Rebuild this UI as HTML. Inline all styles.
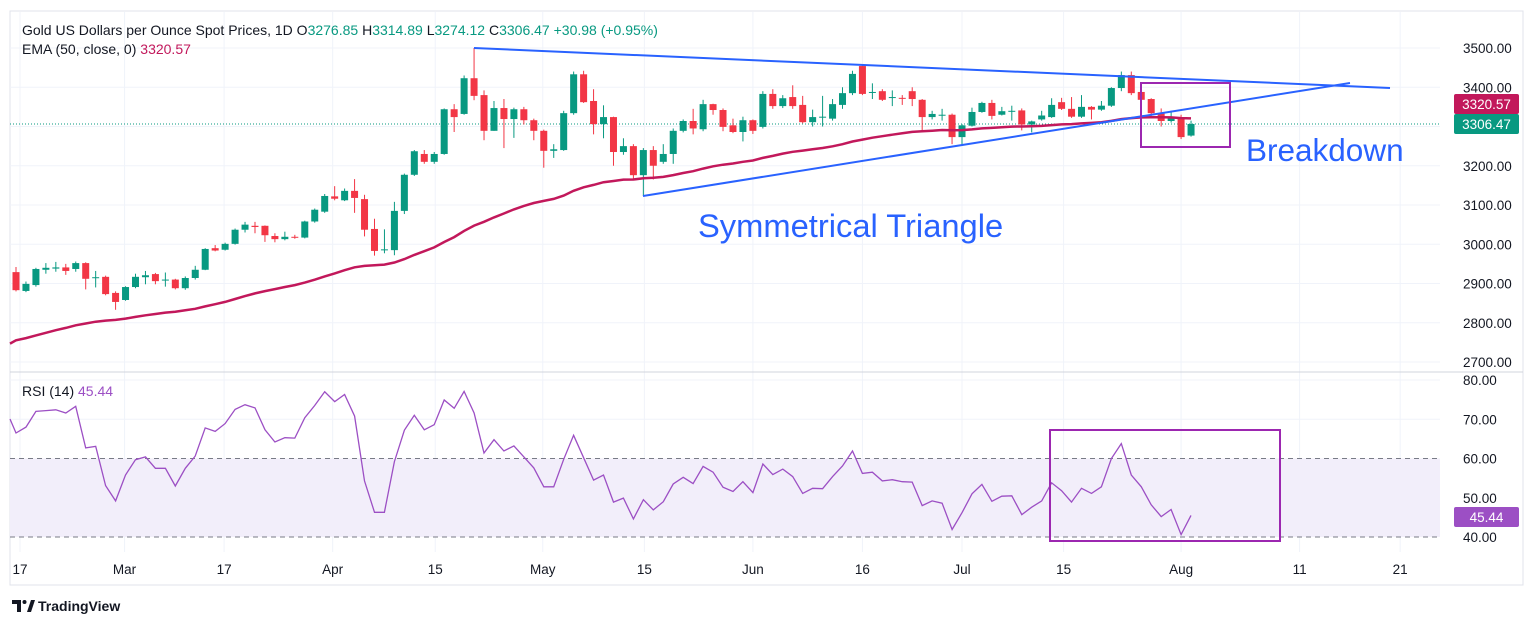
<!DOCTYPE html>
<html><head><meta charset="utf-8">
<style>
html,body{margin:0;padding:0;background:#fff;}
body{width:1536px;height:626px;overflow:hidden;font-family:"Liberation Sans",sans-serif;}
svg text{font-family:"Liberation Sans",sans-serif;}
</style></head>
<body>
<svg id="chart" width="1536" height="626" viewBox="0 0 1536 626" xmlns="http://www.w3.org/2000/svg">
  <rect x="0" y="0" width="1536" height="626" fill="#ffffff"/>
  <rect x="10" y="11" width="1513" height="574" fill="none" stroke="#e0e3eb" stroke-width="1"/>
  <g id="grid"></g>
  <g id="rsiPane"></g>
  <g id="pricePane"></g>
  <line x1="10" y1="372" x2="1523" y2="372" stroke="#d1d4dc" stroke-width="1"/>
  <g id="annotations">
    <line x1="474" y1="48" x2="1390" y2="88" stroke="#2962ff" stroke-width="2"/>
    <line x1="643" y1="196" x2="1350" y2="83" stroke="#2962ff" stroke-width="2"/>
    <rect x="1141" y="83" width="89" height="64" fill="none" stroke="#9c27b0" stroke-width="2"/>
    <rect x="1050" y="430" width="230" height="111" fill="none" stroke="#9c27b0" stroke-width="2"/>
    <text x="698" y="237" font-size="32.7" fill="#2962ff">Symmetrical Triangle</text>
    <text x="1246" y="161" font-size="31.5" fill="#2962ff">Breakdown</text>
  </g>
  <g id="axes"></g>
  <g>
    <text x="22" y="35" font-size="14" fill="#131722">Gold US Dollars per Ounce Spot Prices, 1D <tspan fill="#131722">O</tspan><tspan fill="#089981">3276.85</tspan> <tspan fill="#131722">H</tspan><tspan fill="#089981">3314.89</tspan> <tspan fill="#131722">L</tspan><tspan fill="#089981">3274.12</tspan> <tspan fill="#131722">C</tspan><tspan fill="#089981">3306.47</tspan> <tspan fill="#089981">+30.98 (+0.95%)</tspan></text>
    <text x="22" y="54" font-size="14" fill="#131722">EMA (50, close, 0) <tspan fill="#c2185b">3320.57</tspan></text>
    <text x="22" y="396" font-size="14" fill="#131722">RSI (14) <tspan fill="#9c4fc4">45.44</tspan></text>
  </g>
  <g>
    <path d="M12 600 h9 v12 h-4 v-8 h-5z" fill="#131722"/>
    <circle cx="24.5" cy="602" r="2" fill="#131722"/>
    <path d="M27 612 l4 -12 h4 l-4 12z" fill="#131722"/>
    <text x="38" y="611" font-size="14" font-weight="bold" fill="#131722">TradingView</text>
  </g>
</svg>
<script>
// ---- data ----
const opens  = [2929,2881,2896,2935,2938,2941,2937,2952,2914,2917,2876,2858,2891,2916,2924,2908,2910,2888,2914,2935,2990,2986,3001,3037,3047,3047,3021,3013,3019,3017,3058,3083,3122,3112,3136,3115,3039,2985,2985,3085,3177,3230,3210,3230,3344,3332,3423,3380,3289,3347,3319,3344,3316,3289,3238,3240,3334,3433,3365,3306,3324,3235,3250,3176,3240,3210,3230,3289,3314,3293,3357,3342,3303,3286,3316,3299,3383,3352,3375,3355,3311,3325,3320,3355,3385,3454,3386,3390,3374,3373,3390,3368,3324,3330,3330,3273,3302,3337,3360,3330,3339,3341,3305,3318,3324,3362,3345,3325,3350,3343,3353,3398,3431,3388,3370,3333,3314,3324,3276.85];
const highs  = [2942,2905,2940,2952,2955,2950,2956,2954,2932,2920,2880,2893,2925,2932,2927,2928,2912,2918,2945,2990,2998,3004,3040,3057,3057,3048,3028,3032,3024,3060,3091,3128,3148,3142,3166,3126,3065,3038,3108,3180,3240,3240,3235,3346,3357,3430,3500,3392,3365,3370,3348,3350,3320,3292,3255,3340,3440,3442,3395,3354,3325,3270,3255,3245,3250,3255,3295,3318,3345,3368,3358,3346,3320,3325,3318,3390,3395,3380,3405,3378,3343,3378,3370,3400,3442,3456,3410,3395,3392,3380,3400,3370,3340,3345,3333,3306,3348,3363,3368,3350,3353,3346,3315,3340,3372,3373,3375,3380,3352,3365,3400,3440,3440,3390,3372,3346,3340,3330,3314.89];
const lows   = [2880,2878,2892,2925,2930,2922,2930,2885,2890,2870,2833,2856,2888,2898,2898,2892,2885,2884,2910,2934,2982,2984,2999,3030,3028,3006,3005,3010,3014,3015,3055,3080,3112,3110,3080,3020,2971,2977,2972,3077,3174,3205,3205,3228,3286,3330,3367,3265,3289,3245,3271,3305,3265,3195,3220,3238,3330,3360,3280,3270,3200,3228,3165,3123,3165,3205,3205,3285,3280,3288,3330,3288,3283,3262,3281,3295,3345,3347,3345,3308,3300,3300,3315,3345,3380,3380,3370,3365,3352,3355,3352,3290,3318,3315,3255,3253,3300,3335,3318,3328,3315,3290,3285,3315,3322,3342,3322,3322,3318,3340,3350,3390,3380,3366,3325,3300,3310,3268,3274.12];
const closes = [2883,2899,2937,2940,2941,2932,2952,2912,2916,2873,2853,2891,2917,2921,2906,2910,2888,2914,2935,2988,2984,3001,3037,3050,3044,3023,3013,3019,3017,3058,3088,3123,3116,3136,3118,3037,2983,2987,3085,3177,3237,3210,3230,3344,3324,3423,3378,3289,3347,3319,3344,3316,3289,3238,3242,3334,3433,3362,3306,3324,3235,3250,3176,3240,3200,3230,3289,3314,3295,3357,3342,3299,3286,3316,3289,3383,3352,3372,3352,3311,3324,3325,3357,3385,3434,3383,3388,3368,3375,3372,3370,3324,3332,3330,3273,3303,3337,3360,3327,3339,3340,3305,3313,3328,3355,3345,3325,3350,3343,3353,3398,3431,3385,3368,3334,3314,3322,3273,3306.47];
const rsiPrev = 72.4;
const rsiValues = [66.5,68.0,72.0,72.2,72.4,71.6,73.3,62.7,63.1,53.1,49.2,55.8,59.7,60.4,57.5,57.5,53.0,57.5,60.6,67.8,66.9,68.9,72.5,73.7,72.9,67.3,64.2,65.3,65.2,70.4,73.5,77.0,74.5,76.3,70.8,54.3,46.3,46.3,59.2,67.2,71.0,67.3,68.6,74.9,72.8,77.1,71.6,61.4,64.8,61.9,63.2,60.4,57.6,52.8,52.8,59.8,65.9,60.2,54.5,55.8,48.9,49.9,44.6,49.5,46.9,49.0,53.5,55.2,53.6,58.0,56.5,52.7,51.6,54.1,51.3,58.6,55.9,57.3,55.4,51.1,52.4,52.3,55.4,58.1,61.9,56.2,56.5,54.3,54.6,54.1,54.0,48.0,49.2,48.6,41.9,46.2,51.0,53.4,49.1,50.4,50.5,45.7,47.6,49.2,53.8,51.8,48.9,52.4,51.1,52.8,60.0,63.8,55.8,52.8,48.2,45.2,47.0,40.6,45.5];
const priceTicks = [3500,3400,3300,3200,3100,3000,2900,2800,2700];
const rsiTicks = [80,70,60,50,40];
const dateLabels = ["17","Mar","17","Apr","15","May","15","Jun","16","Jul","15","Aug","11","21"];
const dateIndex  = [0.4,10.9,20.9,31.8,42.1,52.9,63.1,74,85,95,105.2,117,128.9,139];
const emaSeed = 2750;
const emaPeriod = 50;

// ---- scales ----
const NS = "http://www.w3.org/2000/svg";
function xAt(i){ return 16 + i*9.958; }
function yP(p){ return 48 + (3500-p)*0.3925; }
function yR(r){ return 380 + (80-r)*3.925; }
function mk(tag, attrs, parent){
  const e = document.createElementNS(NS, tag);
  for (const k in attrs) e.setAttribute(k, attrs[k]);
  parent.appendChild(e);
  return e;
}
const grid = document.getElementById('grid');
const pp = document.getElementById('pricePane');
const rp = document.getElementById('rsiPane');
const ax = document.getElementById('axes');

priceTicks.forEach(t=>{
  const l = mk('line',{x1:10,x2:1440,y1:yP(t),y2:yP(t),stroke:'#f0f3fa','stroke-width':1},grid);
  
  
  const tx = mk('text',{x:1463,y:yP(t)+5,'font-size':13.5,fill:'#131722'},ax);
  tx.textContent = t.toFixed(2);
  
  
});
rsiTicks.forEach(t=>{
  if (t!==60 && t!==40){
    const l = mk('line',{x1:10,x2:1440,y1:yR(t),y2:yR(t),stroke:'#f0f3fa','stroke-width':1},grid);
    
    
  }
  const tx = mk('text',{x:1463,y:yR(t)+5,'font-size':13.5,fill:'#131722'},ax);
  tx.textContent = t.toFixed(2);
  
  
});
dateLabels.forEach((d,k)=>{
  const x = xAt(dateIndex[k]);
  const l = mk('line',{x1:x,x2:x,y1:12,y2:552,stroke:'#f0f3fa','stroke-width':1},grid);
  
  
  const tx = mk('text',{x:x,y:574,'font-size':13.5,fill:'#131722','text-anchor':'middle'},ax);
  tx.textContent = d;
  
  
});

const band = mk('rect',{x:10,y:yR(60),width:1430,height:yR(40)-yR(60),fill:'#f2eefa'},rp);


[60,40].forEach(v=>{
  const l = mk('line',{x1:10,x2:1440,y1:yR(v),y2:yR(v),stroke:'#787b86','stroke-width':1,'stroke-dasharray':'5,4'},rp);
  
  
});
// leading segment from previous (off-chart) bar, clipped at left edge
const x0 = xAt(0), xm1 = xAt(-1);
const yStart = yR(rsiPrev) + (yR(rsiValues[0])-yR(rsiPrev))*(10-xm1)/(x0-xm1);
let rd = 'M10 '+yStart.toFixed(1);
rsiValues.forEach((v,i)=>{ rd += 'L'+xAt(i).toFixed(1)+' '+yR(v).toFixed(1); });
const rl = mk('path',{d:rd,fill:'none',stroke:'#9c4fc4','stroke-width':1.3},rp);



const lastClose = closes[closes.length-1];
const cl = mk('line',{x1:10,x2:1440,y1:yP(lastClose),y2:yP(lastClose),stroke:'#089981','stroke-width':1,'stroke-dasharray':'1,2'},pp);



closes.forEach((c,i)=>{
  const o = opens[i], h = highs[i], lo = lows[i];
  const col = c>=o ? '#089981' : '#f23645';
  const x = xAt(i);
  const g = mk('g',{},pp);
  
  
  mk('line',{x1:x,x2:x,y1:yP(h),y2:yP(lo),stroke:col,'stroke-width':1},g);
  const top = yP(Math.max(o,c)), bot = yP(Math.min(o,c));
  mk('rect',{x:x-3.5,y:top,width:7,height:Math.max(1,bot-top),fill:col},g);
});

let ema = emaSeed, ed = '';
const k = 2/(emaPeriod+1);
closes.forEach((c,i)=>{
  ema = c*k + ema*(1-k);
  ed += 'L'+xAt(i).toFixed(1)+' '+yP(ema).toFixed(1);
});
ed = 'M10 '+yP(emaSeed-3).toFixed(1)+' '+ed;
const el = mk('path',{d:ed,fill:'none',stroke:'#c2185b','stroke-width':2.5},pp);



function tag(y,bg,txt,name){
  const g = mk('g',{},ax);
  
  
  mk('rect',{x:1454,y:y-10,width:65,height:20,rx:2,fill:bg},g);
  const t = mk('text',{x:1486.5,y:y+5,'font-size':13.5,fill:'#fff','text-anchor':'middle'},g);
  t.textContent = txt;
}
tag(104,'#c2185b','3320.57','ema-price-tag');
tag(124,'#089981',lastClose.toFixed(2),'last-price-tag');
tag(517,'#9c4fc4',rsiValues[rsiValues.length-1].toFixed(2).replace('45.50','45.44'),'rsi-value-tag');
</script>
</body></html>
